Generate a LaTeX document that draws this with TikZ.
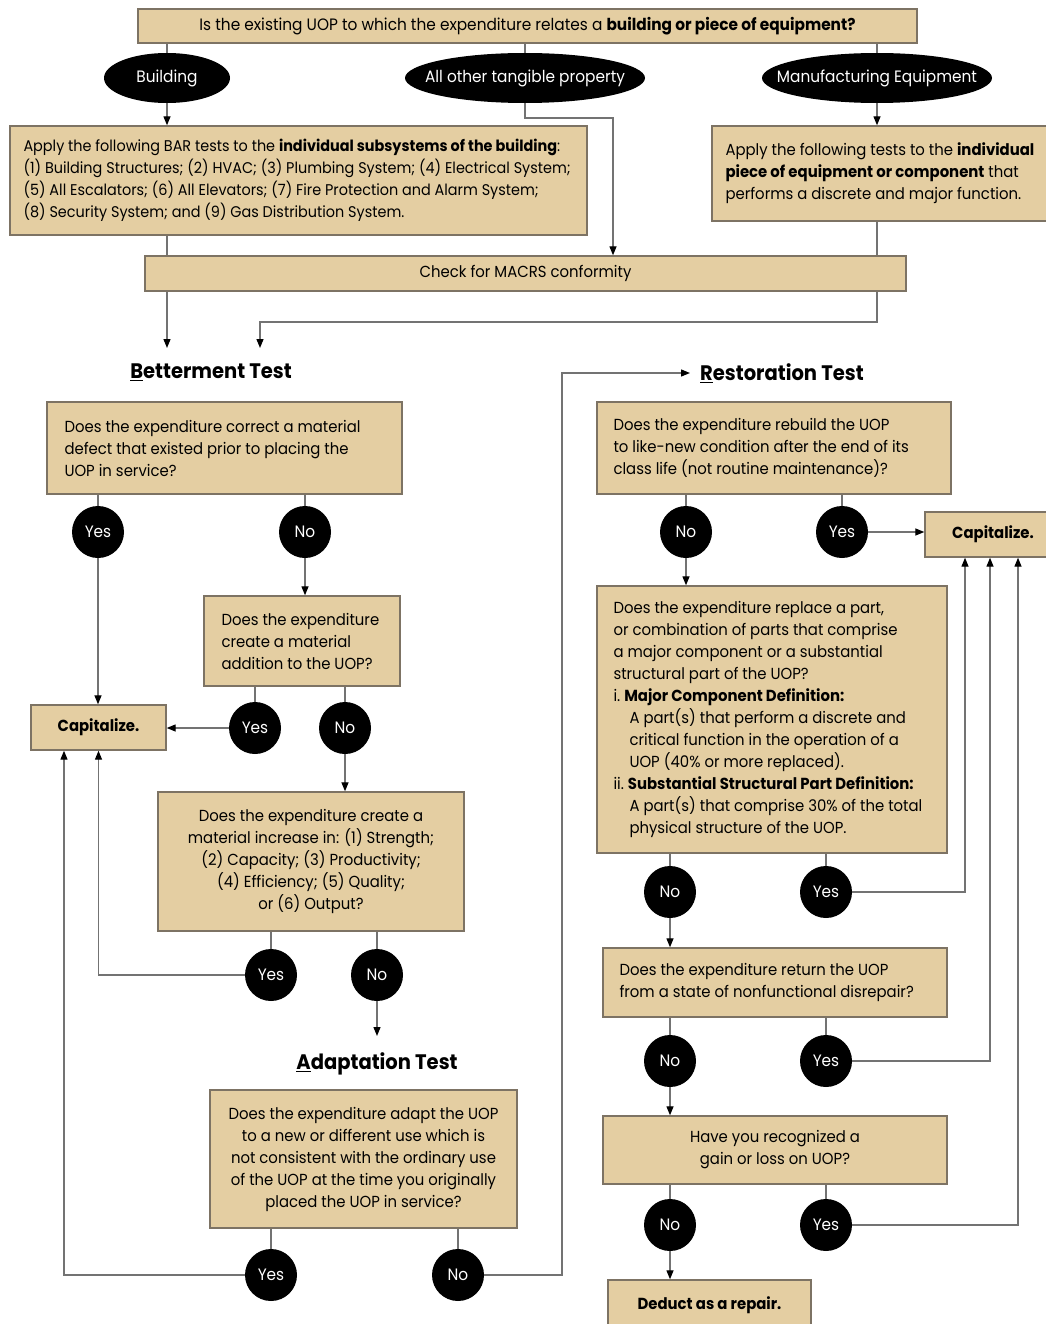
\documentclass[tikz,border=0pt]{standalone}
\usepackage{fontspec}
\setmainfont{Poppins}[FakeStretch=0.93]
\usetikzlibrary{arrows.meta,shapes.geometric}
\definecolor{tanfill}{RGB}{228,206,162}
\definecolor{boxline}{RGB}{125,115,100}
\definecolor{conn}{RGB}{115,115,115}
\tikzset{
  qbox/.style={draw=boxline, fill=tanfill, line width=1.4pt, inner sep=0pt, rectangle},
  qtext/.style={inner sep=0pt, align=left, anchor=west, font=\fontsize{16}{22}\selectfont},
  ctext/.style={align=center, font=\fontsize{16}{22}\selectfont},
  yn/.style={circle, fill=black, text=white, minimum size=52pt, inner sep=0pt, font=\fontsize{16.5}{20}\selectfont},
  oval/.style={ellipse, fill=black, text=white, inner sep=0pt, minimum height=50pt, font=\fontsize{16.5}{20}\selectfont},
  ttl/.style={inner sep=0pt, font=\fontsize{21}{24}\selectfont\bfseries},
  capfont/.style={font=\fontsize{16}{18}\selectfont\bfseries},
  ln/.style={draw=conn, line width=1.3pt},
  arr/.style={ln, -{Triangle[length=9pt,width=7pt,color=black]}}
}
\begin{document}
\begin{tikzpicture}[x=1pt,y=-1pt]
\useasboundingbox (0,0) rectangle (1045,1324);
\fill[white] (0,0) rectangle (1045,1324);

% top section
\node[qbox, ctext, minimum width=779pt, minimum height=34pt, font=\fontsize{16.5}{22}\selectfont] (top) at (527.5,26)
  {Is the existing UOP to which the expenditure relates a \textbf{building or piece of equipment?}};
\node[oval, minimum width=126pt] (bld) at (167,78) {Building};
\node[oval, minimum width=240pt, inner xsep=-16pt] (oth) at (525,78) {All other tangible property};
\node[oval, minimum width=230pt, inner xsep=-20pt] (man) at (877,78) {Manufacturing Equipment};

\node[qbox, minimum width=577pt, minimum height=109pt] (bar) at (298.5,180.5) {};
\node[qtext, font=\fontsize{15.5}{22}\selectfont] (bart) at ([xshift=14pt]bar.west)
  {Apply the following BAR tests to the \textbf{individual subsystems of the building}:\\
   (1) Building Structures; (2) HVAC; (3) Plumbing System; (4) Electrical System;\\
   (5) All Escalators; (6) All Elevators; (7) Fire Protection and Alarm System;\\
   (8) Security System; and (9) Gas Distribution System.};
\node[qbox, minimum width=336pt, minimum height=95pt] (app) at (880,173.5) {};
\node[qtext] (appt) at ([xshift=14pt]app.west)
  {Apply the following tests to the \textbf{individual}\\
   \textbf{piece of equipment or component} that\\
   performs a discrete and major function.};
\node[qbox, ctext, minimum width=761pt, minimum height=35pt] (chk) at (525.5,273.5) {Check for MACRS conformity};

\coordinate (oj) at (613,118);
\coordinate (mj) at (877,322);
\coordinate (bin1) at (167,348);
\coordinate (bin2) at (260,348);

\draw[ln] (bld.north) -- (bld.north |- top.south);
\draw[ln] (oth.north) -- (oth.north |- top.south);
\draw[ln] (man.north) -- (man.north |- top.south);
\draw[arr] (bld.south) -- (bld.south |- bar.north);
\draw[arr] (man.south) -- (man.south |- app.north);
\draw[arr] (oth.south) |- (oj) -- (oj |- chk.north);
\draw[ln] (bar.south -| bld) -- (chk.north -| bld);
\draw[arr] (chk.south -| bld) -- (bin1);
\draw[ln] (app.south -| mj) -- (chk.north -| mj);
\draw[arr] (chk.south -| mj) -- (mj) -| (bin2);

% Betterment
\node[ttl] (bet) at (211,372) {\underline{B}etterment Test};
\node[qbox, minimum width=355pt, minimum height=92pt] (b1) at (224.5,448) {};
\node[qtext] (b1t) at ([xshift=18pt]b1.west)
  {Does the expenditure correct a material\\ defect that existed prior to placing the\\ UOP in service?};
\node[yn] (y1) at (98,532) {Yes};
\node[yn] (n1) at (305,532) {No};
\node[qbox, minimum width=196pt, minimum height=90pt] (b2) at (302,641) {};
\node[qtext] (b2t) at ([xshift=18pt]b2.west)
  {Does the expenditure\\ create a material\\ addition to the UOP?};
\node[yn] (y2) at (255,728) {Yes};
\node[yn] (n2) at (345,728) {No};
\node[qbox, capfont, minimum width=135pt, minimum height=45pt] (capl) at (98.5,727.5) {Capitalize.};
\node[qbox, ctext, minimum width=306pt, minimum height=139pt] (b3) at (311,861.5)
  {Does the expenditure create a\\ material increase in: (1) Strength;\\ (2) Capacity; (3) Productivity;\\ (4) Efficiency; (5) Quality;\\ or (6) Output?};
\node[yn] (y3) at (271,975) {Yes};
\node[yn] (n3) at (377,975) {No};
\coordinate (ain) at (377,1036);
\node[ttl] (ada) at (377,1064) {\underline{A}daptation Test};
\node[qbox, ctext, minimum width=307pt, minimum height=138pt] (b4) at (363.5,1159)
  {Does the expenditure adapt the UOP\\ to a new or different use which is\\ not consistent with the ordinary use\\ of the UOP at the time you originally\\ placed the UOP in service?};
\node[yn] (y4) at (271,1275) {Yes};
\node[yn] (n4) at (458,1275) {No};

\draw[ln] (b1.south -| y1) -- (y1.north);
\draw[arr] (y1.south) -- (y1.south |- capl.north);
\draw[ln] (b1.south -| n1) -- (n1.north);
\draw[arr] (n1.south) -- (n1.south |- b2.north);
\draw[ln] (b2.south -| y2) -- (y2.north);
\draw[arr] (y2.west) -- (y2.west -| capl.east);
\draw[ln] (b2.south -| n2) -- (n2.north);
\draw[arr] (n2.south) -- (n2.south |- b3.north);
\draw[ln] (b3.south -| y3) -- (y3.north);
\draw[arr] (y3.west) -| (capl.south);
\draw[ln] (b3.south -| n3) -- (n3.north);
\draw[arr] (n3.south) -- (ain);
\draw[ln] (b4.south -| y4) -- (y4.north);
\draw[arr] (y4.west) -| ([xshift=-34.5pt]capl.south);
\draw[ln] (b4.south -| n4) -- (n4.north);

% Restoration
\node[ttl, anchor=west] (res) at (700,373) {\underline{R}estoration Test};
\coordinate (rj) at (562,373);
\draw[arr] (n4.east) -| (rj) -- ([xshift=-10pt]res.west);

\node[qbox, minimum width=354pt, minimum height=92pt] (r1) at (774,448) {};
\node[qtext] (r1t) at ([xshift=17pt]r1.west)
  {Does the expenditure rebuild the UOP\\ to like-new condition after the end of its\\ class life (not routine maintenance)?};
\node[yn] (nr1) at (686,532) {No};
\node[yn] (yr1) at (842,532) {Yes};
\node[qbox, capfont, minimum width=136pt, minimum height=45pt] (capr) at (993,534.5) {Capitalize.};
\node[qbox, minimum width=350pt, minimum height=267pt] (r2) at (772,719.5) {};
\node[qtext] (r2t) at ([xshift=17pt]r2.west)
  {Does the expenditure replace a part,\\
   or combination of parts that comprise\\
   a major component or a substantial\\
   structural part of the UOP?\\
   i.\ \textbf{Major Component Definition:}\\
   \hspace*{16pt}A part(s) that perform a discrete and\\
   \hspace*{16pt}critical function in the operation of a\\
   \hspace*{16pt}UOP (40\% or more replaced).\\
   ii.\ \textbf{Substantial Structural Part Definition:}\\
   \hspace*{16pt}A part(s) that comprise 30\% of the total\\
   \hspace*{16pt}physical structure of the UOP.};
\node[yn] (nr2) at (670,892) {No};
\node[yn] (yr2) at (826,892) {Yes};
\node[qbox, minimum width=344pt, minimum height=69pt] (r3) at (775,982.5) {};
\node[qtext] (r3t) at ([xshift=17pt]r3.west)
  {Does the expenditure return the UOP\\ from a state of nonfunctional disrepair?};
\node[yn] (nr3) at (670,1061) {No};
\node[yn] (yr3) at (826,1061) {Yes};
\node[qbox, ctext, minimum width=344pt, minimum height=68pt] (r4) at (775,1150)
  {Have you recognized a\\ gain or loss on UOP?};
\node[yn] (nr4) at (670,1225) {No};
\node[yn] (yr4) at (826,1225) {Yes};
\node[qbox, capfont, minimum width=203pt, minimum height=50pt] (ded) at (709.5,1305) {\raisebox{3pt}{Deduct as a repair.}};

\draw[ln] (r1.south -| nr1) -- (nr1.north);
\draw[arr] (nr1.south) -- (nr1.south |- r2.north);
\draw[ln] (r1.south -| yr1) -- (yr1.north);
\draw[arr] (yr1.east) -- (yr1.east -| capr.west);
\draw[ln] (r2.south -| nr2) -- (nr2.north);
\draw[arr] (nr2.south) -- (nr2.south |- r3.north);
\draw[ln] (r2.south -| yr2) -- (yr2.north);
\draw[arr] (yr2.east) -| ([xshift=-28pt]capr.south);
\draw[ln] (r3.south -| nr3) -- (nr3.north);
\draw[arr] (nr3.south) -- (nr3.south |- r4.north);
\draw[ln] (r3.south -| yr3) -- (yr3.north);
\draw[arr] (yr3.east) -| ([xshift=-3pt]capr.south);
\draw[ln] (r4.south -| nr4) -- (nr4.north);
\draw[arr] (nr4.south) -- (nr4.south |- ded.north);
\draw[ln] (r4.south -| yr4) -- (yr4.north);
\draw[arr] (yr4.east) -| ([xshift=25pt]capr.south);
\end{tikzpicture}
\end{document}
